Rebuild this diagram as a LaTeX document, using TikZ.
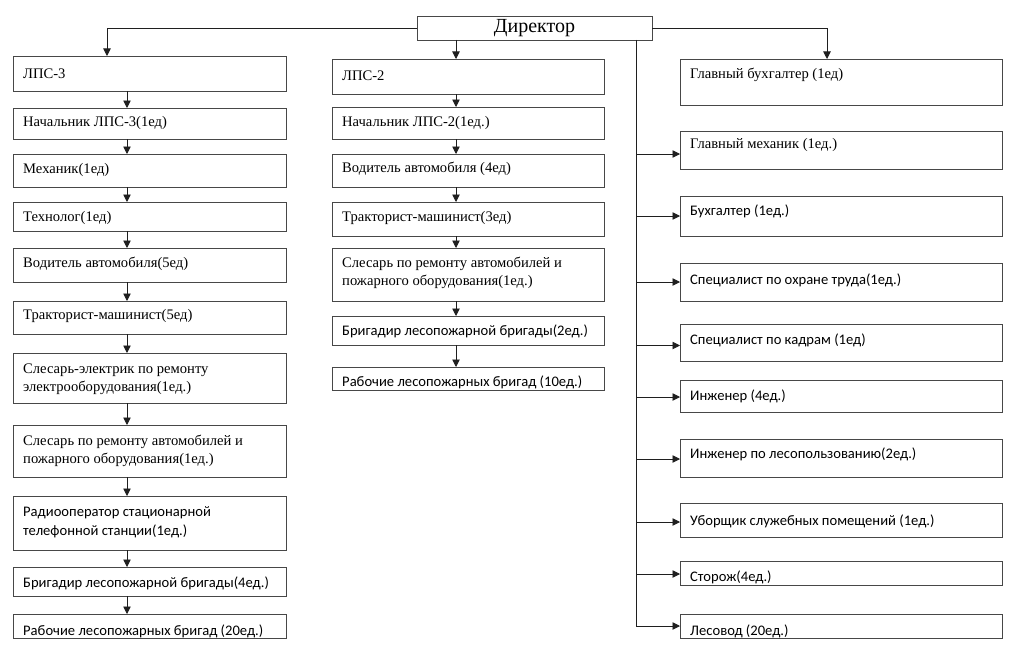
\documentclass[tikz,border=0pt]{standalone}
\usepackage{fontspec}
\setmainfont{Liberation Serif}
\newfontfamily\calib{Carlito}
\usetikzlibrary{arrows.meta,calc}

\tikzset{
 bx/.style={draw=black!72, line width=0.9pt, anchor=north west, inner sep=0pt, outer sep=0pt},
 arr/.style={draw=black!88, line width=0.9pt, -{Triangle[length=7.5pt,width=7.5pt]}},
 ln/.style={draw=black!88, line width=0.9pt},
 sr/.style={font=\fontsize{14.6}{18}\selectfont, anchor=base west, inner sep=0pt, align=left},
 sn/.style={font=\calib\fontsize{14.6}{19}\selectfont, anchor=base west, inner sep=0pt, align=left},
}
% name, x1, y1, x2, y2, style, baseline offset of last line, text
\newcommand\bxx[8]{%
 \node[bx, minimum width={#4-#2}, minimum height={#5-#3}] (#1) at (#2,#3) {};
 \begin{scope}
  \clip (#1.south west) rectangle (#1.north east);
  \node[#6] (#1t) at ($(#1.north west)+(10,#7)$) {#8};
 \end{scope}
}

\begin{document}
\begin{tikzpicture}[x=1pt,y=-1pt]
\useasboundingbox (0,0) rectangle (1024,661);

\node[bx, minimum width=235, minimum height=24, font=\fontsize{20}{24}\selectfont] (dir) at (417,16) {Директор};

% left column
\bxx{lps3}{13}{56}{286}{91}{sr}{22}{ЛПС-3}
\bxx{nach3}{13}{108}{286}{139}{sr}{18}{Начальник ЛПС-3(1ед)}
\bxx{mech}{13}{154}{286}{187}{sr}{19}{Механик(1ед)}
\bxx{tech}{13}{202}{286}{231}{sr}{19}{Технолог(1ед)}
\bxx{vod5}{13}{248}{286}{282}{sr}{19}{Водитель автомобиля(5ед)}
\bxx{trak5}{13}{301}{286}{334}{sr}{18}{Тракторист-машинист(5ед)}
\bxx{sel}{13}{353}{286}{403}{sr}{38}{Слесарь-электрик по ремонту\\электрооборудования(1ед.)}
\bxx{slr3}{13}{425}{286}{477}{sr}{38}{Слесарь по ремонту автомобилей и\\пожарного оборудования(1ед.)}
\bxx{radio}{13}{496}{286}{550}{sn}{39}{Радиооператор стационарной\\телефонной станции(1ед.)}
\bxx{brig4}{13}{567}{286}{596}{sn}{20}{Бригадир лесопожарной бригады(4ед.)}
\bxx{rab20}{13}{614}{286}{638}{sn}{21}{Рабочие лесопожарных бригад (20ед.)}

% middle column
\bxx{lps2}{332}{59}{604}{94}{sr}{22}{ЛПС-2}
\bxx{nach2}{332}{107}{604}{139}{sr}{19}{Начальник ЛПС-2(1ед.)}
\bxx{vod4}{332}{154}{604}{187}{sr}{18}{Водитель автомобиля (4ед)}
\bxx{trak3}{332}{202}{604}{236}{sr}{19}{Тракторист-машинист(3ед)}
\bxx{slr2}{332}{248}{604}{301}{sr}{37}{Слесарь по ремонту автомобилей и\\пожарного оборудования(1ед.)}
\bxx{brig2}{332}{316}{604}{345}{sn}{19}{Бригадир лесопожарной бригады(2ед.)}
\bxx{rab10}{332}{367}{604}{390}{sn}{19}{Рабочие лесопожарных бригад (10ед.)}

% right column
\bxx{gb}{680}{59}{1002}{105}{sr}{19}{Главный бухгалтер (1ед)}
\bxx{gm}{680}{131}{1002}{169}{sr}{17}{Главный механик (1ед.)}
\bxx{buh}{680}{196}{1002}{236}{sn}{19}{Бухгалтер (1ед.)}
\bxx{ot}{680}{263}{1002}{301}{sn}{21}{Специалист по охране труда(1ед.)}
\bxx{kadr}{680}{324}{1002}{361}{sn}{20}{Специалист по кадрам (1ед)}
\bxx{ing}{680}{380}{1002}{412}{sn}{20}{Инженер (4ед.)}
\bxx{lesp}{680}{439}{1002}{477}{sn}{19}{Инженер по лесопользованию(2ед.)}
\bxx{ub}{680}{503}{1002}{537}{sn}{22}{Уборщик служебных помещений (1ед.)}
\bxx{st}{680}{561}{1002}{585}{sn}{20}{Сторож(4ед.)}
\bxx{les}{680}{614}{1002}{638}{sn}{21}{Лесовод (20ед.)}

% helper x positions
\coordinate (lx) at (127,0);
\coordinate (mx) at (456,0);
\coordinate (l3x) at (107,0);
\coordinate (rx) at (827,0);
\coordinate (vx) at (636,0);

% director links
\draw[arr] (dir.west) -| (lps3.north -| l3x);
\draw[arr] (dir.south -| mx) -- (lps2.north -| mx);
\draw[arr] (dir.east) -| (gb.north -| rx);

% left chain
\foreach \a/\b in {lps3/nach3,nach3/mech,mech/tech,tech/vod5,vod5/trak5,trak5/sel,sel/slr3,slr3/radio,radio/brig4,brig4/rab20}
  \draw[arr] (\a.south -| lx) -- (\b.north -| lx);

% middle chain
\foreach \a/\b in {lps2/nach2,nach2/vod4,vod4/trak3,trak3/slr2,slr2/brig2,brig2/rab10}
  \draw[arr] (\a.south -| mx) -- (\b.north -| mx);

% right trunk
\draw[ln] (dir.south -| vx) -- (les.west -| vx);
\foreach \b/\dy in {gm/4,buh/0,ot/0,kadr/3,ing/1,lesp/1,ub/2,st/1,les/0}
  \draw[arr] ($(\b.west -| vx)+(0,\dy)$) -- ($(\b.west)+(0,\dy)$);
\end{tikzpicture}
\end{document}
